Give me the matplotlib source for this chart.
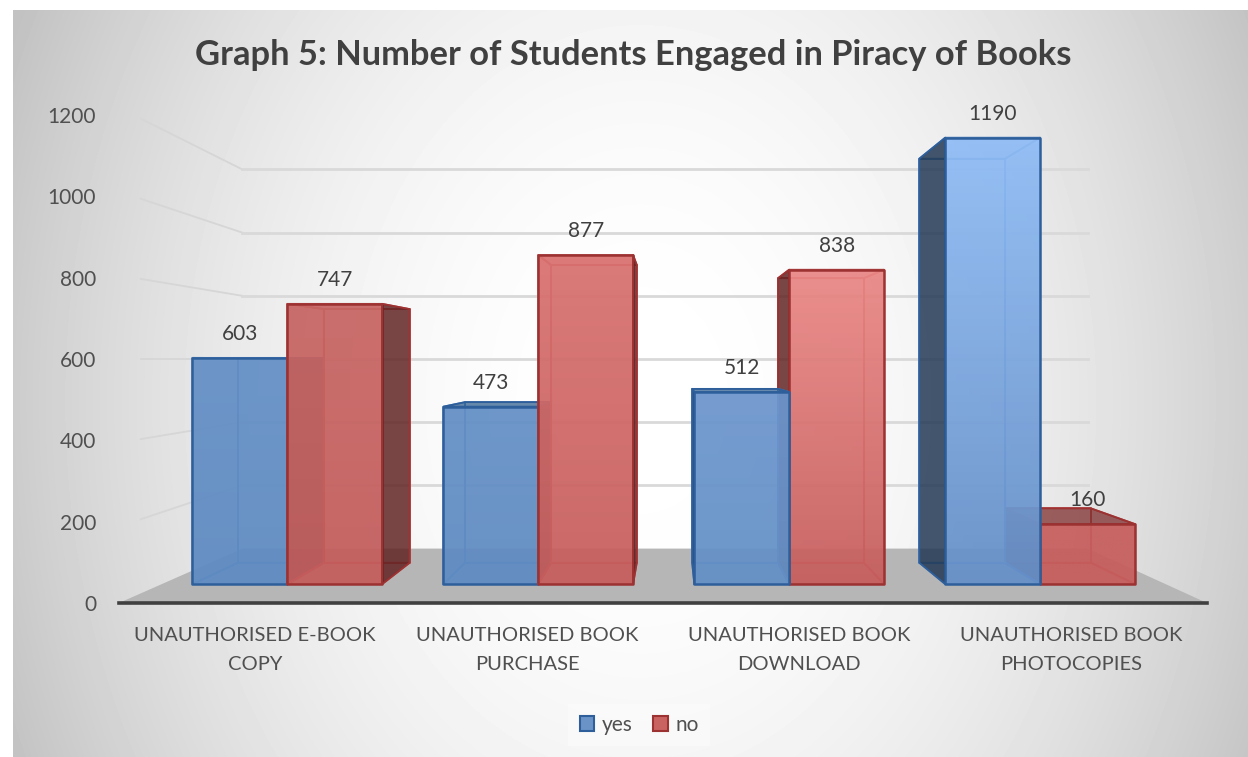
import numpy as np
import matplotlib
matplotlib.use('Agg')
import matplotlib.pyplot as plt
from matplotlib.patches import Polygon, Patch
from matplotlib.colors import to_rgb

categories = ['UNAUTHORISED E-BOOK\nCOPY', 'UNAUTHORISED BOOK\nPURCHASE',
              'UNAUTHORISED BOOK\nDOWNLOAD', 'UNAUTHORISED BOOK\nPHOTOCOPIES']
yes_vals = [603, 473, 512, 1190]
no_vals = [747, 877, 838, 160]
y_ticks = [0, 200, 400, 600, 800, 1000, 1200]
title = 'Graph 5: Number of Students Engaged in Piracy of Books'

W, H = 1248, 757
plt.rcParams['font.family'] = ['Lato', 'DejaVu Sans']
TXT = '#505050'

# perspective of the 3d chart, depth given as scale factor towards the vanishing point
VX, VV = 1.533, 600
S_FRONT, S_BACK, S_WALL = 0.9225, 0.835, 0.777
BW = 0.378


def proj(x, v, s):
    return VX + (x - VX) * s, VV + (v - VV) * s


fig = plt.figure(figsize=(W / 100, H / 100), dpi=100)

# background card with radial shading
bg = fig.add_axes([0, 0, 1, 1], zorder=-1)
xx, yy = np.meshgrid(np.arange(W), np.arange(H))
r2 = ((xx - 640) / 620) ** 2 + ((yy - 400) / 800) ** 2
shade = 1 - 0.24 * np.clip(r2 / 1.23, 0, 1)
shade[(xx < 13) | (yy < 10)] = 1
bg.imshow(shade, cmap='gray', vmin=0, vmax=1, aspect='auto', interpolation='bilinear')
bg.axis('off')

ax = fig.add_axes([119 / W, (H - 603) / H, (1207 - 119) / W, (603 - 115) / H])
ax.patch.set_alpha(0)
ax.set_xlim(-0.5, 3.5)
ax.set_ylim(0, 1200)

# floor
fl = [proj(-0.5, 0, 1), proj(-0.5, 0, S_WALL), proj(3.5, 0, S_WALL), proj(3.5, 0, 1)]
ax.add_patch(Polygon(fl, fc='#b6b6b6', ec='none', zorder=1))

# wall gridlines, the left side ones are fainter
for t in y_ticks[1:]:
    p0 = proj(-0.5, t, S_WALL)
    p1 = proj(3.5, t, S_WALL)
    ax.plot([p0[0], p1[0]], [p0[1], p1[1]], color='#d9d9d9', lw=2, zorder=1.5)
    p2 = proj(-0.45, t, 0.985)
    ax.plot([p2[0], p0[0]], [p2[1], p0[1]], color='#d6d6d6', lw=1.3, zorder=1.4)

zz = [2]


def nextz():
    zz[0] += 0.01
    return zz[0]


def face(pts, fc, alpha, ec, lw=1.3):
    ax.add_patch(Polygon(pts, fc=fc, ec='none', zorder=nextz(), lw=0)).set_alpha(alpha)
    ax.add_patch(Polygon(pts, fill=False, ec=ec, lw=lw, zorder=nextz(), joinstyle='round'))


def front_face(pts, top, bottom, ec):
    # vertical colour gradient, clipped to the face
    c0, c1 = np.array(to_rgb(top)), np.array(to_rgb(bottom))
    t = np.linspace(0, 1, 64)[:, None]
    img = np.concatenate([c0 + (c1 - c0) * t, np.full((64, 1), 0.93)], axis=1)[:, None, :]
    xs = [p[0] for p in pts]
    ys = [p[1] for p in pts]
    im = ax.imshow(img, extent=[min(xs), max(xs), min(ys), max(ys)], aspect='auto', zorder=nextz())
    pg = Polygon(pts, fill=False, ec=ec, lw=1.8, zorder=nextz(), joinstyle='round')
    ax.add_patch(pg)
    im.set_clip_path(pg)


def draw_bar(x0, x1, v, st, top, bottom):
    p = proj
    ff = [p(x0, 0, S_FRONT), p(x0, v, S_FRONT), p(x1, v, S_FRONT), p(x1, 0, S_FRONT)]
    bk = [p(x0, 0, S_BACK), p(x0, v, S_BACK), p(x1, v, S_BACK), p(x1, 0, S_BACK)]
    lf = [ff[0], ff[1], bk[1], bk[0]]
    rt = [ff[3], ff[2], bk[2], bk[3]]
    tp = [ff[1], ff[2], bk[2], bk[1]]
    bt = [ff[0], ff[3], bk[3], bk[0]]
    face(bk, st['in'], 0.10, st['edge2'])
    face(bt, st['in'], 0.15, st['edge2'])
    outer_right = (x0 + x1) / 2 < VX
    face(rt if not outer_right else lf, st['in'], 0.12, st['edge2'])
    if v >= VV:
        face(tp, st['in'], 0.12, st['edge2'])
    front_face(ff, top, bottom, st['edge'])
    if v < VV:
        face(tp, st['top'], 0.72, st['edge'])
    face(rt if outer_right else lf, st['dark'], 0.82, st['edge'])


BLUE = dict(edge='#2f5f9b', edge2='#4f80bd', dark='#1f3550', top='#33618f', **{'in': '#5b8ac6'})
RED = dict(edge='#9c3232', edge2='#b84c4c', dark='#5e2020', top='#7c2c2c', **{'in': '#c8605e'})

# colours of the front faces, lighting differs from bar to bar
yes_top = ['#6590c6', '#6590c6', '#6d96cd', '#90bdf6']
yes_bot = ['#5f8bc2', '#5f8bc2', '#6490c6', '#6690c8']
no_top = ['#c86664', '#d97270', '#ea8886', '#c65e5d']
no_bot = ['#c35d5c', '#c65e5d', '#c65e5d', '#c65e5d']

for i in range(4):
    if i < 2:
        draw_bar(i - BW, i, yes_vals[i], BLUE, yes_top[i], yes_bot[i])
        draw_bar(i, i + BW, no_vals[i], RED, no_top[i], no_bot[i])
    else:
        draw_bar(i, i + BW, no_vals[i], RED, no_top[i], no_bot[i])
        draw_bar(i - BW, i, yes_vals[i], BLUE, yes_top[i], yes_bot[i])

# data labels, sit above the front top edge
for i in range(4):
    ax.annotate(str(yes_vals[i]), proj(i - BW / 2, yes_vals[i], S_FRONT), xytext=(0, 17.3),
                textcoords='offset points', ha='center', va='center', fontsize=15, color='#404040', zorder=5)
    ax.annotate(str(no_vals[i]), proj(i + BW / 2, no_vals[i], S_FRONT), xytext=(0, 17.3),
                textcoords='offset points', ha='center', va='center', fontsize=15, color='#404040', zorder=5)

ax.set_xticks(range(4))
ax.set_xticklabels(categories, fontsize=14.5, color=TXT, linespacing=1.85)
ax.set_yticks(y_ticks)
ax.set_yticklabels([str(t) for t in y_ticks], fontsize=15, color=TXT)
ax.tick_params(axis='both', length=0)
ax.tick_params(axis='x', pad=17.5)
ax.tick_params(axis='y', pad=16.5)
for k in ['left', 'right', 'top']:
    ax.spines[k].set_visible(False)
ax.spines['bottom'].set_color('#404040')
ax.spines['bottom'].set_linewidth(2.6)

fig.text(633 / W, 1 - 55 / H, title, ha='center', va='center', fontsize=24.8, fontweight='bold', color='#404040')

leg = fig.legend(handles=[Patch(fc='#6a94c8', ec='#2f5f9b', lw=1.5, label='yes'),
                          Patch(fc='#c96361', ec='#9c3232', lw=1.5, label='no')],
                 loc='center', bbox_to_anchor=(639 / W, 1 - 725 / H), ncol=2, frameon=True, fontsize=15,
                 handlelength=0.7, handleheight=0.7, handletextpad=0.35, columnspacing=1.0, labelcolor=TXT,
                 fancybox=False, borderpad=0.55)
leg.get_frame().set_facecolor('white')
leg.get_frame().set_alpha(0.35)
leg.get_frame().set_edgecolor('none')

fig.savefig('out.png', dpi=100)
